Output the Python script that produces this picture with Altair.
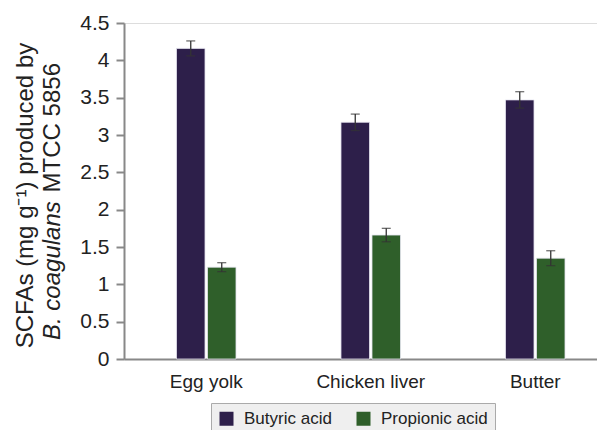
import altair as alt
import pandas as pd

categories = ["Egg yolk", "Chicken liver", "Butter"]
series = ["Butyric acid", "Propionic acid"]
butyric = [4.16, 3.17, 3.47]
butyric_err = [0.10, 0.11, 0.11]
propionic = [1.23, 1.66, 1.35]
propionic_err = [0.06, 0.09, 0.10]
colors = ["#2d1f4a", "#2f5f2a"]
y_ticks = [0, 0.5, 1, 1.5, 2, 2.5, 3, 3.5, 4, 4.5]

rows = []
for i, c in enumerate(categories):
    rows.append({"cat": c, "s": series[0], "v": butyric[i], "e": butyric_err[i]})
    rows.append({"cat": c, "s": series[1], "v": propionic[i], "e": propionic_err[i]})
df = pd.DataFrame(rows)

W, H = 473, 336
FONT = "Liberation Sans"

xscale = alt.Scale(domain=categories, range=[0, 493.5], paddingInner=0, paddingOuter=0)
xoff_scale = alt.Scale(domain=series, range=[51.25, 113.25], paddingInner=0.08, paddingOuter=0.04)
yscale = alt.Scale(domain=[0, 4.5], nice=False)

x_axis = alt.Axis(title=None, labelAngle=0, ticks=False, domain=True,
                  domainColor="#888", domainWidth=2,
                  labelFontSize=19, labelFont=FONT, labelColor="#222",
                  labelPadding=13)
y_axis = alt.Axis(values=y_ticks, labelExpr="'' + datum.value", labelOverlap=False,
                  title="SCFAs (mg g\u207b\u00b9) produced by",
                  titleFont=FONT, titleFontSize=24, titleFontWeight="normal",
                  titleColor="#222", titleX=-99, titleY=H / 2 + 4,
                  titleBaseline="middle", titleAlign="center", titleAngle=270,
                  labelFontSize=21, labelFont=FONT, labelColor="#222",
                  labelPadding=7, tickSize=8, tickWidth=2, tickColor="#888",
                  domainColor="#888", domainWidth=2, grid=False)

x_enc = alt.X("cat:N", scale=xscale, sort=categories, axis=x_axis)
xo_enc = alt.XOffset("s:N", scale=xoff_scale, sort=series)

bars = alt.Chart(df).mark_bar(stroke="#e6e4f0", strokeWidth=0.8).encode(
    x=x_enc,
    xOffset=xo_enc,
    y=alt.Y("v:Q", scale=yscale, axis=y_axis),
    color=alt.Color("s:N", scale=alt.Scale(domain=series, range=colors),
                    legend=alt.Legend(title=None, orient="none", legendX=87, legendY=380,
                                      direction="horizontal", symbolType="square",
                                      symbolSize=196, symbolStrokeWidth=0,
                                      labelFontSize=17, labelFont=FONT, labelColor="#222",
                                      labelOffset=9, columnPadding=23, padding=7,
                                      fillColor="#efefef", strokeColor="#aaa")),
)

err_base = alt.Chart(df).transform_calculate(lo="datum.v - datum.e", hi="datum.v + datum.e")

rules = err_base.mark_rule(color="#333", strokeWidth=1.3).encode(
    x=x_enc,
    xOffset=xo_enc,
    y=alt.Y("lo:Q", scale=yscale, axis=y_axis),
    y2="hi:Q",
)
caps_hi = err_base.mark_tick(color="#333", thickness=1.3, size=9, orient="horizontal").encode(
    x=x_enc,
    xOffset=xo_enc,
    y=alt.Y("hi:Q", scale=yscale, axis=y_axis),
)
caps_lo = err_base.mark_tick(color="#333", thickness=1.3, size=9, orient="horizontal").encode(
    x=x_enc,
    xOffset=xo_enc,
    y=alt.Y("lo:Q", scale=yscale, axis=y_axis),
)

t_italic = alt.Chart(pd.DataFrame({"t": ["B. coagulans"]})).mark_text(
    angle=270, align="left", baseline="middle", font=FONT, fontSize=24,
    fontStyle="italic", color="#222"
).encode(text="t:N", x=alt.value(-71), y=alt.value(317))
t_rest = alt.Chart(pd.DataFrame({"t": ["MTCC 5856"]})).mark_text(
    angle=270, align="right", baseline="middle", font=FONT, fontSize=24, color="#222"
).encode(text="t:N", x=alt.value(-71), y=alt.value(40))

chart = alt.layer(bars, rules, caps_hi, caps_lo, t_italic, t_rest).properties(
    width=W, height=H,
    autosize=alt.AutoSizeParams(type="none"),
    padding={"left": 116, "top": 15, "right": 0, "bottom": 71},
).configure_view(stroke=None).configure(background="white")

chart.save("out.html", embed_options={"renderer": "svg", "actions": False})
